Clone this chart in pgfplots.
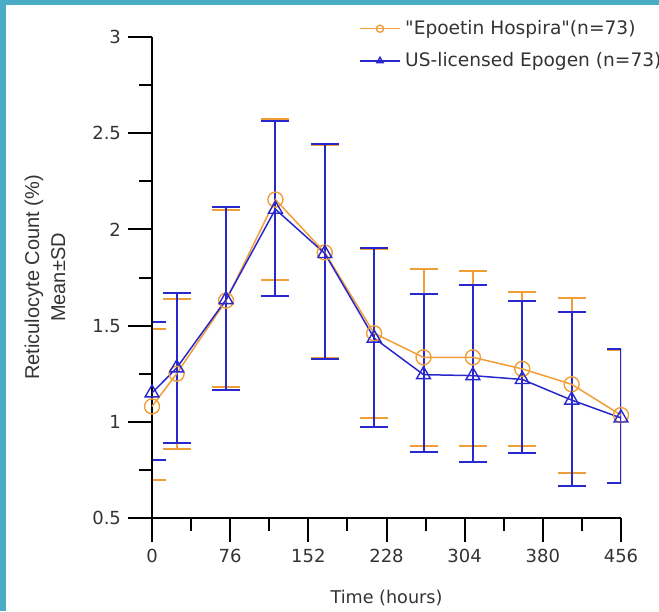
\documentclass[border=0pt]{standalone}
\usepackage{fontspec}
\setmainfont{DejaVu Sans}[Ligatures=TeXOff]
\newfontfamily\lib{Liberation Sans}
\usepackage{pgfplots}
\usepackage{pgfplotstable}
\pgfplotsset{compat=1.18}

\definecolor{hosp}{RGB}{240,158,55}
\definecolor{epo}{RGB}{40,40,205}
\definecolor{frame}{RGB}{75,172,198}

% t = hours, m = mean, ep/em = upper and lower SD
\pgfplotstableread{
t   m      ep    em
0   1.08   0.40  0.38
24  1.25   0.39  0.39
72  1.63   0.47  0.45
120 2.155  0.42  0.42
168 1.88   0.56  0.55
216 1.46   0.44  0.44
264 1.335  0.46  0.46
312 1.335  0.45  0.46
360 1.275  0.40  0.40
408 1.195  0.45  0.46
456 1.035  0.34  0.355
}\hospira

\pgfplotstableread{
t   m      ep    em
0   1.15   0.37  0.35
24  1.28   0.39  0.39
72  1.635  0.48  0.47
120 2.105  0.46  0.45
168 1.875  0.57  0.55
216 1.435  0.47  0.46
264 1.245  0.42  0.40
312 1.24   0.47  0.45
360 1.22   0.41  0.38
408 1.113  0.46  0.445
456 1.02   0.36  0.34
}\epogen

\pgfplotsset{
    frame axis/.style={
        at={(76pt,-259pt)}, anchor=south west,
        scale only axis, width=234.5pt, height=240.5pt,
        xmin=0, xmax=456, ymin=0.5, ymax=3,
    },
    sdbars/.style={
        draw=none, no marks,
        error bars/.cd, y dir=both, y explicit,
        error bar style={draw=#1, line width=1pt},
        error mark options={draw=#1, line width=1pt, mark size=7pt, rotate=90},
    },
}

\begin{document}
\begin{tikzpicture}
\useasboundingbox (0,0) rectangle (329.5pt,-305.5pt);
\fill[frame] (0,0) rectangle (329.5pt,-2.5pt);
\fill[frame] (0,0) rectangle (3pt,-305.5pt);

% error bars, clipped to the axis box
\begin{axis}[
    frame axis,
    xtick={0,76,152,228,304,380,456},
    ytick={0.5,1,1.5,2,2.5,3},
    minor x tick num=1, minor y tick num=1,
    axis lines=left,
    axis line style={-, line width=1.25pt, black},
    axis on top,
    tick align=outside,
    major tick length=12pt, minor tick length=6.5pt,
    tick style={line width=1pt, black},
    /pgf/number format/assume math mode=true,
    /pgf/number format/1000 sep={},
    ticklabel style={font=\fontsize{9}{10}\selectfont, text=black!80},
    xlabel={Time (hours)},
    xlabel style={at={(rel axis cs:0.5,-0.166)}, anchor=center,
        font=\fontsize{8.8}{10}\selectfont, text=black!80},
    ylabel={Reticulocyte Count (\%)\\Mean±SD},
    ylabel style={at={(rel axis cs:-0.228,0.5)}, anchor=center, rotate=0,
        align=center, font=\lib\fontsize{10}{13}\selectfont, text=black!80},
    clip marker paths=true,
]
\addplot[sdbars=hosp] table[x=t, y=m, y error plus=ep, y error minus=em] {\hospira};
\addplot[sdbars=epo] table[x=t, y=m, y error plus=ep, y error minus=em] {\epogen};
\end{axis}

% means, not clipped
\begin{axis}[
    frame axis,
    hide axis, clip=false,
    legend style={at={(rel axis cs:0.44,1.04)}, anchor=north west,
        draw=none, fill=none, inner sep=0pt, row sep=5.5pt, column sep=1pt,
        font=\fontsize{9.3}{10}\selectfont, text=black!80,
        nodes={inner sep=1pt}},
    legend cell align=left,
    legend image code/.code={
        \draw[mark repeat=2, mark phase=2, mark size=1.8pt]
            plot coordinates {(0cm,0cm) (0.36cm,0cm) (0.72cm,0cm)};},
]
\addplot[color=hosp, line width=0.75pt, mark=o, mark size=3.75pt,
    mark options={line width=0.7pt}]
    table[x=t, y=m] {\hospira};
\addlegendentry{"Epoetin Hospira"(n=73)}

\addplot[color=epo, line width=0.75pt, mark=triangle, mark size=4pt,
    mark options={line width=0.7pt}]
    table[x=t, y=m] {\epogen};
\addlegendentry{US-licensed Epogen (n=73)}
\end{axis}
\end{tikzpicture}
\end{document}
